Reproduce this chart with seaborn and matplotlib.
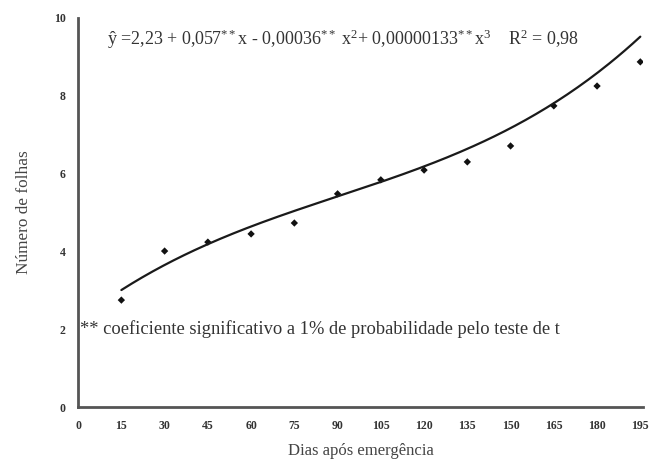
import numpy as np
import pandas as pd
import matplotlib
matplotlib.use("Agg")
import matplotlib.pyplot as plt
import seaborn as sns

# Data
dias = [15, 30, 45, 60, 75, 90, 105, 120, 135, 150, 165, 180, 195]
folhas = [2.75, 4.01, 4.24, 4.45, 4.73, 5.48, 5.84, 6.09, 6.30, 6.71, 7.74, 8.25, 8.87]
# regression coefficients shown on the chart (x^3, x^2, x, const)
coef = [0.00000133, -0.00036, 0.057, 2.23]
x_ticks = [0, 15, 30, 45, 60, 75, 90, 105, 120, 135, 150, 165, 180, 195]
y_ticks = [0, 2, 4, 6, 8, 10]

sns.set_theme(style="white")
plt.rcParams['font.family'] = ['Liberation Serif', 'DejaVu Serif']
plt.rcParams['mathtext.fontset'] = 'custom'
plt.rcParams['mathtext.rm'] = 'Liberation Serif'
plt.rcParams['mathtext.it'] = 'Liberation Serif:italic'
plt.rcParams['mathtext.default'] = 'regular'

df = pd.DataFrame({"dias": dias, "folhas": folhas})
xf = np.linspace(15, 195, 200)
fit = pd.DataFrame({"dias": xf, "folhas": np.polyval(coef, xf)})

fig = plt.figure(figsize=(6.51, 4.59), dpi=100)
ax = fig.add_axes([0.12, 0.113, 0.868, 0.848])

sns.lineplot(data=fit, x="dias", y="folhas", ax=ax, color="#1a1a1a", linewidth=1.6)
sns.scatterplot(data=df, x="dias", y="folhas", ax=ax, color="#111111", marker="D",
                s=14, edgecolor="none")

ax.set_xlim(0, 196)
ax.set_ylim(0, 10)
ax.set_xticks(x_ticks)
ax.set_yticks(y_ticks)
ax.set_xticklabels([str(t) for t in x_ticks], fontsize=8.5, fontweight="bold", color="#333333")
ax.set_yticklabels([str(t) for t in y_ticks], fontsize=8.5, fontweight="bold", color="#333333")
ax.tick_params(axis="both", length=0, pad=9)

for s in ["top", "right"]:
    ax.spines[s].set_visible(False)
for s in ["left", "bottom"]:
    ax.spines[s].set_color("#555555")
    ax.spines[s].set_linewidth(2)

ax.set_xlabel("Dias após emergência", fontsize=12, color="#444444", labelpad=8)
ax.set_ylabel("Número de folhas", fontsize=12.4, color="#444444", labelpad=16)

ax.text(10, 9.44,
        "ŷ =2,23 + 0,057$^{**}$x - 0,00036$^{**}$ x$^{2}$+ 0,00000133$^{**}$x$^{3}$    R$^{2}$ = 0,98",
        fontsize=13, color="#333333", va="center", ha="left")
ax.text(0.8, 2.0, "** coeficiente significativo a 1% de probabilidade pelo teste de t",
        fontsize=13.3, color="#333333", va="center", ha="left")

fig.savefig("out.png", dpi=100)
